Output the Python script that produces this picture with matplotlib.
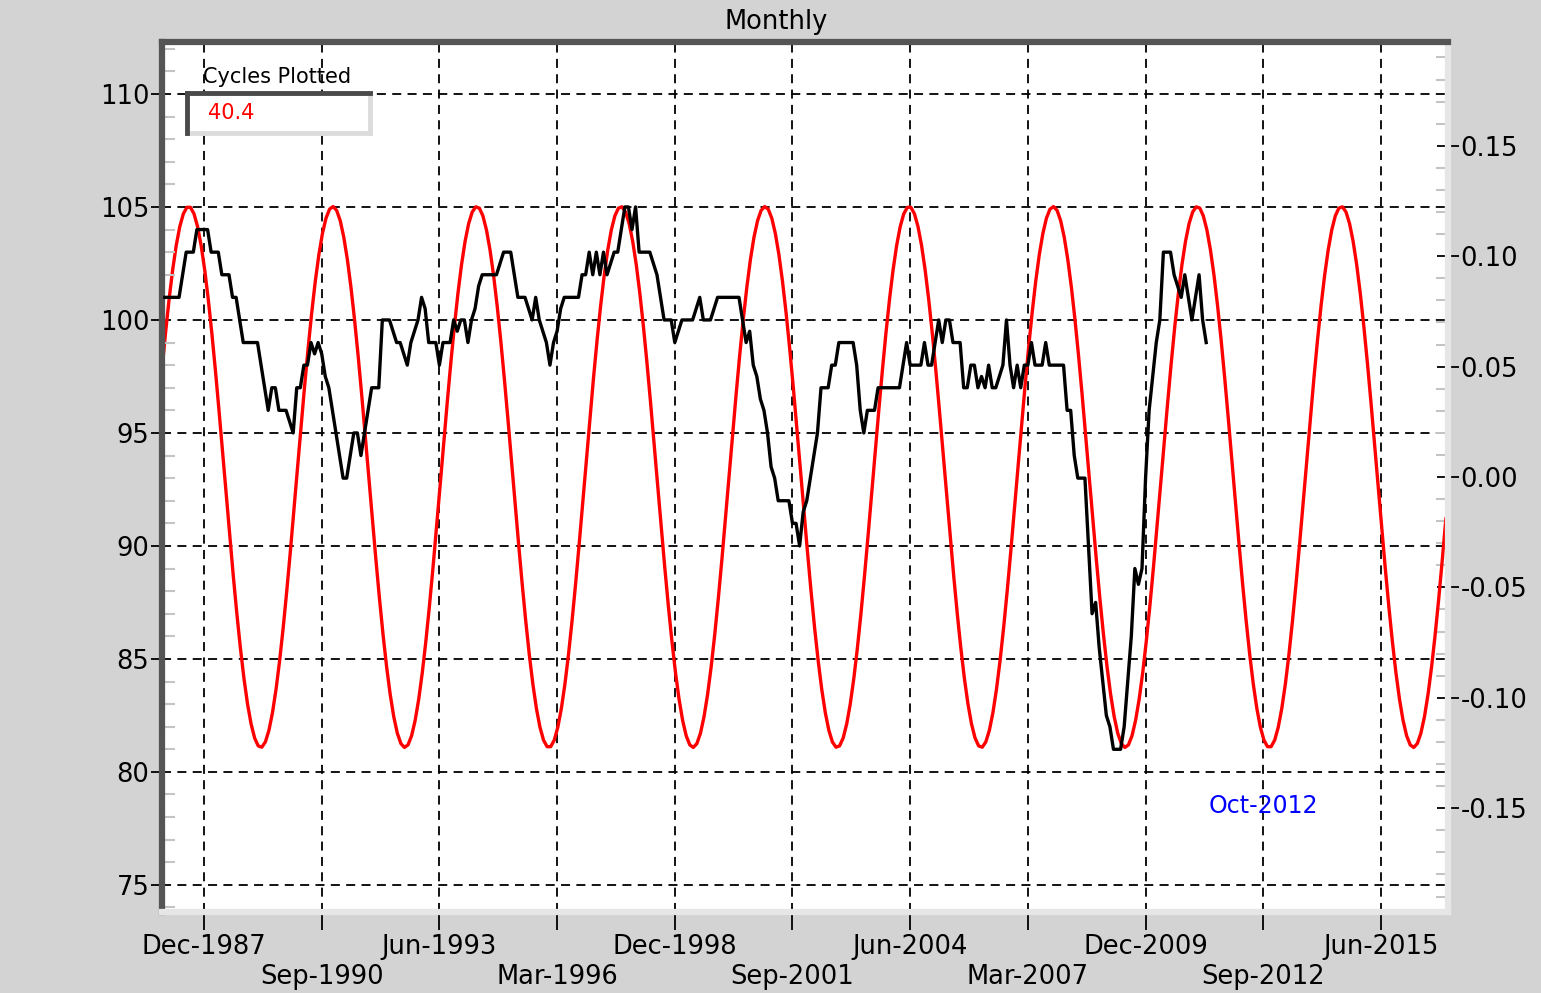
import numpy as np
import matplotlib
matplotlib.use("Agg")
import matplotlib.pyplot as plt
from matplotlib.transforms import blended_transform_factory
from matplotlib.ticker import MultipleLocator, FuncFormatter
from matplotlib.patches import Rectangle
from matplotlib.lines import Line2D

plt.rcParams['axes.unicode_minus'] = False
plt.rcParams['font.family'] = ['DejaVu Sans']

# ---------------- data ----------------
# month index: 0 = Jan-1987
series_start_month = 0
index_values = [
    101, 101, 101, 101, 101, 102, 103, 103, 103, 104, 104, 104,        # 1987
    104, 103, 103, 103, 102, 102, 102, 101, 101, 100, 99, 99,          # 1988
    99, 99, 99, 98, 97, 96, 97, 97, 96, 96, 96, 95.5,                  # 1989
    95, 97, 97, 98, 98, 99, 98.5, 99, 98.5, 97.5, 97, 96,              # 1990
    95, 94, 93, 93, 94, 95, 95, 94, 95, 96, 97, 97,                    # 1991
    97, 100, 100, 100, 99.5, 99, 99, 98.5, 98, 99, 99.5, 100,          # 1992
    101, 100.5, 99, 99, 99, 98, 99, 99, 99, 100, 99.5, 100,            # 1993
    100, 99, 100, 100.5, 101.5, 102, 102, 102, 102, 102, 102.5, 103,   # 1994
    103, 103, 102, 101, 101, 101, 100.5, 100, 101, 100, 99.5, 99,      # 1995
    98, 99, 99.5, 100.5, 101, 101, 101, 101, 101, 102, 102, 103,       # 1996
    102, 103, 102, 103, 102, 102.5, 103, 103, 104, 105, 105, 104,      # 1997
    105, 103, 103, 103, 103, 102.5, 102, 101, 100, 100, 100, 99,       # 1998
    99.5, 100, 100, 100, 100, 100.5, 101, 100, 100, 100, 100.5, 101,   # 1999
    101, 101, 101, 101, 101, 101, 100, 99, 99.5, 98, 97.5, 96.5,       # 2000
    96, 95, 93.5, 93, 92, 92, 92, 92, 91, 91, 90, 91.5,                # 2001
    92, 93, 94, 95, 97, 97, 97, 98, 98, 99, 99, 99,                    # 2002
    99, 99, 98, 96, 95, 96, 96, 96, 97, 97, 97, 97,                    # 2003
    97, 97, 97, 98, 99, 98, 98, 98, 98, 99, 98, 98,                    # 2004
    99, 100, 99, 100, 100, 99, 99, 99, 97, 97, 98, 98,                 # 2005
    97, 97.5, 97, 98, 97, 97, 97.5, 98, 100, 98, 97, 98,               # 2006
    97, 98, 98, 99, 98, 98, 98, 99, 98, 98, 98, 98,                    # 2007
    98, 96, 96, 94, 93, 93, 93, 90, 87, 87.5, 85.5, 84,                # 2008
    82.5, 82, 81, 81, 81, 82, 84, 86, 89, 88.3, 89, 93,                # 2009
    96, 97.5, 99, 100, 103, 103, 103, 102, 101.5, 101, 102, 101,       # 2010
    100, 101, 102, 100, 99,                                            # 2011
]

# plotted cycle (the chart's "Cycles Plotted" value)
cycle_period = 40.4
cycle_amplitude = 0.1225
cycle_peak_month = 6.7
cycle_first_month = -0.8
cycle_last_month = 359.2

tick_months = [11, 44, 77, 110, 143, 176, 209, 242, 275, 308, 341]
tick_labels = ['Dec-1987', 'Sep-1990', 'Jun-1993', 'Mar-1996', 'Dec-1998',
               'Sep-2001', 'Jun-2004', 'Mar-2007', 'Dec-2009', 'Sep-2012', 'Jun-2015']
left_ticks = [75, 80, 85, 90, 95, 100, 105, 110]
right_ticks = [-0.15, -0.10, -0.05, 0.0, 0.05, 0.10, 0.15]
marker_label = 'Oct-2012'
marker_month = 308
marker_value = 78.5

# ---------------- figure ----------------
W, H = 1541, 993
fig = plt.figure(figsize=(W / 100, H / 100), dpi=100, facecolor='#d3d3d3')

L, R, T, B = 162, 1448, 42, 912
ax = fig.add_axes([L / W, 1 - B / H, (R - L) / W, (B - T) / H])
ax.set_facecolor('white')
axL = ax.twinx()
ax.yaxis.tick_right()
axL.yaxis.tick_left()

ax.set_xlim(-0.78, 359.8)
ax.set_ylim(-0.197, 0.197)
axL.set_ylim(73.8, 112.3)

# grid (drawn in the lower axes so that data lines sit on top)
dash = (0, (5, 3.5))
for m in tick_months:
    ax.axvline(m, color='black', lw=1.3, linestyle=dash, zorder=1)
htrans = blended_transform_factory(ax.transAxes, axL.transData)
for v in left_ticks:
    ax.add_line(Line2D([0, 1], [v, v], transform=htrans, color='black',
                       lw=1.3, linestyle=dash, zorder=1))

# cycle curve (right scale)
cm = np.arange(cycle_first_month, cycle_last_month + 0.01, 1.0)
cv = cycle_amplitude * np.cos(2 * np.pi * (cm - cycle_peak_month) / cycle_period)
ax.plot(cm, cv, color='#ff0000', lw=2.4, zorder=3)

# index (left scale)
months = np.arange(len(index_values)) + series_start_month
axL.plot(months, index_values, color='black', lw=2.4, zorder=3)

# spines
for s in ax.spines.values():
    s.set_visible(False)
for side in ('left', 'top'):
    axL.spines[side].set_color('#555555')
    axL.spines[side].set_linewidth(4.5)
for side in ('bottom', 'right'):
    axL.spines[side].set_color('#e6e6e6')
    axL.spines[side].set_linewidth(4.5)

FS = 18.5

# x ticks (two staggered rows)
ax.set_xticks(tick_months)
ax.set_xticklabels([lab if i % 2 == 0 else '\n' + lab for i, lab in enumerate(tick_labels)])
ax.tick_params(axis='x', direction='out', length=13, width=1.3, color='black',
               labelsize=FS, pad=3)
for lab in ax.get_xticklabels():
    lab.set_linespacing(1.2)

# left ticks
axL.set_yticks(left_ticks)
axL.set_yticklabels([str(v) for v in left_ticks])
axL.yaxis.set_minor_locator(MultipleLocator(1))
axL.tick_params(axis='y', which='major', direction='out', length=8, width=1.3,
                color='black', labelsize=FS, pad=1)
axL.tick_params(axis='y', which='minor', direction='in', length=9, width=1.5,
                color='#c4c4c4')

# right ticks
ax.set_yticks(right_ticks)
ax.yaxis.set_major_formatter(FuncFormatter(lambda v, p: f'{v:.2f}'))
ax.yaxis.set_minor_locator(MultipleLocator(0.01))
ax.tick_params(axis='y', which='major', direction='inout', length=16, width=1.3,
               color='black', labelsize=FS, pad=1)
ax.tick_params(axis='y', which='minor', direction='in', length=9, width=1.5,
               color='#c4c4c4')

# title
fig.text(776 / W, 1 - 22 / H, 'Monthly', ha='center', va='center', fontsize=FS)

# cycles plotted box
axL.text((203 - L) / (R - L), (B - 77) / (B - T), 'Cycles Plotted', transform=axL.transAxes,
         ha='left', va='center', fontsize=15, zorder=0.5)
bx0, bx1 = (187 - L) / (R - L), (370 - L) / (R - L)
by0, by1 = (B - 133) / (B - T), (B - 93) / (B - T)
axL.add_patch(Rectangle((bx0, by0), bx1 - bx0, by1 - by0, transform=axL.transAxes,
                        facecolor='white', edgecolor='none', zorder=4))
axL.add_line(Line2D([bx0, bx1], [by0, by0], transform=axL.transAxes, color='#dcdcdc', lw=3.5, zorder=5))
axL.add_line(Line2D([bx1, bx1], [by0, by1], transform=axL.transAxes, color='#dcdcdc', lw=3.5, zorder=5))
axL.add_line(Line2D([bx0, bx1], [by1, by1], transform=axL.transAxes, color='#4a4a4a', lw=3.5, zorder=6))
axL.add_line(Line2D([bx0, bx0], [by0, by1], transform=axL.transAxes, color='#4a4a4a', lw=3.5, zorder=6))
axL.text((208 - L) / (R - L), (B - 113) / (B - T), '40.4', transform=axL.transAxes,
         ha='left', va='center', fontsize=15, color='#ff0000', zorder=7)

# marker label
axL.text(marker_month, marker_value, marker_label, ha='center', va='center',
         fontsize=17, color='#0000ff', zorder=5)

fig.savefig('out.png', dpi=100, facecolor=fig.get_facecolor())
